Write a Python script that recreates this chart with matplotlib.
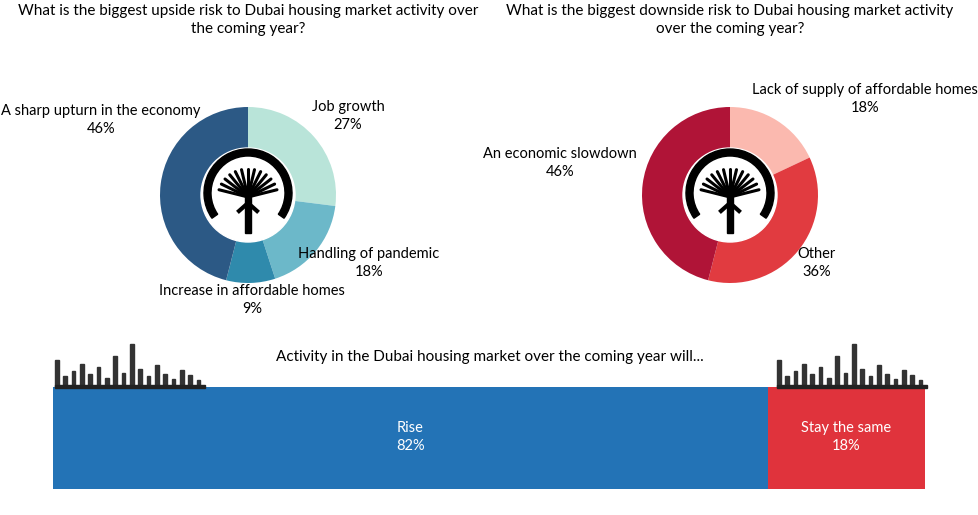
import matplotlib.pyplot as plt
import numpy as np
from matplotlib.patches import Circle, Wedge, Rectangle

plt.rcParams['font.family'] = ['Lato', 'DejaVu Sans']

up_labels = ["Job growth", "Handling of pandemic", "Increase in affordable homes", "A sharp upturn in the economy"]
up_values = [27, 18, 9, 46]
up_colors = ["#b9e4d9", "#6cb8c9", "#2f8aac", "#2c5985"]

down_labels = ["Lack of supply of affordable homes", "Other", "An economic slowdown"]
down_values = [18, 36, 46]
down_colors = ["#fbb9af", "#e13b40", "#b01437"]

bar_labels = ["Rise", "Stay the same"]
bar_values = [82, 18]
bar_colors = ["#2373b6", "#e0333c"]

H = 515
fig = plt.figure(figsize=(9.79, 5.15), dpi=100)
ax = fig.add_axes([0, 0, 1, 1])


def icon(cx, cy):
    # palm island logo, rough
    ax.add_patch(Wedge((cx, cy + 2), 44, -35, 215, width=7, color='black'))
    for a in np.linspace(15, 165, 13):
        r = np.radians(a)
        ax.plot([cx, cx + 30 * np.cos(r)], [cy - 2, cy - 2 + 28 * np.sin(r)],
                color='black', lw=2.2, solid_capstyle='round')
    ax.add_patch(Rectangle((cx - 3, cy - 38), 6, 38, color='black'))
    ax.plot([cx - 9, cx, cx + 9], [cy - 16, cy - 8, cy - 16], color='black', lw=3)


def donut(cx, cy, values, colors):
    ax.pie(values, colors=colors, center=(cx, H - cy), radius=88, startangle=90,
           counterclock=False, wedgeprops=dict(width=42, linewidth=0), frame=True)
    ax.add_patch(Circle((cx, H - cy), 47, color='white'))
    icon(cx, H - cy)


donut(248, 195, up_values, up_colors)
donut(730, 195, down_values, down_colors)
ax.set_xlim(0, 979)
ax.set_ylim(0, H)
ax.set_aspect('auto')
ax.axis('off')

fs = 10.5
ax.text(248, H - 20, "What is the biggest upside risk to Dubai housing market activity over\nthe coming year?",
        ha='center', va='center', fontsize=11, linespacing=1.3)
ax.text(730, H - 20, "What is the biggest downside risk to Dubai housing market activity\nover the coming year?",
        ha='center', va='center', fontsize=11, linespacing=1.3)

up_pos = [(348, 116), (369, 263), (252, 300), (101, 120)]
for (x, y), l, v in zip(up_pos, up_labels, up_values):
    ax.text(x, H - y, f"{l}\n{v}%", ha='center', va='center', fontsize=fs, linespacing=1.3)
down_pos = [(865, 99), (817, 263), (560, 163)]
for (x, y), l, v in zip(down_pos, down_labels, down_values):
    ax.text(x, H - y, f"{l}\n{v}%", ha='center', va='center', fontsize=fs, linespacing=1.3)

ax.text(490, H - 357, "Activity in the Dubai housing market over the coming year will...",
        ha='center', va='center', fontsize=11)

x0, x1 = 53, 925
left = x0
for l, v, c in zip(bar_labels, bar_values, bar_colors):
    w = (x1 - x0) * v / sum(bar_values)
    ax.barh(H - 438, w, height=102, left=left, color=c)
    ax.text(left + w / 2, H - 437, f"{l}\n{v}%", ha='center', va='center',
            fontsize=fs, color='white', linespacing=1.3)
    left += w

# skylines (decorative)
heights = [30, 12, 18, 26, 14, 22, 10, 34, 16, 48, 20, 12, 24, 15, 9, 19, 13, 8]
for sx, sw in [(55, 150), (777, 150)]:
    for i, hgt in enumerate(heights):
        bx = sx + i * sw / len(heights)
        ax.add_patch(Rectangle((bx, H - 387), sw / len(heights) * 0.45, hgt * 0.9, color='#333333'))
    ax.add_patch(Rectangle((sx, H - 388), sw, 3, color='#222222'))

fig.savefig("out.png", dpi=100)
